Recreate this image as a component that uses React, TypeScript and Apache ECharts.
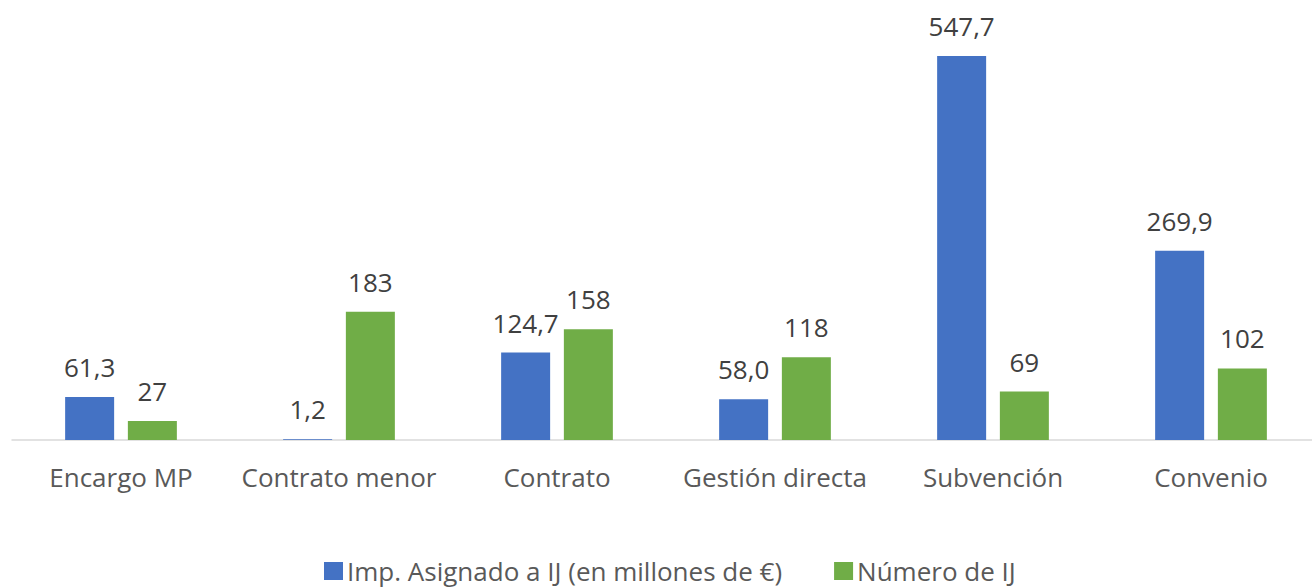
import React, { useEffect, useRef } from "react";
import * as echarts from "echarts";

const categories = ["Encargo MP", "Contrato menor", "Contrato", "Gestión directa", "Subvención", "Convenio"];
const importeValues = [61.3, 1.2, 124.7, 58.0, 547.7, 269.9];
const numeroValues = [27, 183, 158, 118, 69, 102];
const seriesNames = ["Imp. Asignado a IJ (en millones de €)", "Número de IJ"];

export default function App() {
  const ref = useRef<HTMLDivElement>(null);
  useEffect(() => {
    const chart = echarts.init(ref.current!, null, { renderer: "svg" });
    const font = "'Open Sans', 'Noto Sans', sans-serif";
    chart.setOption({
      animation: false,
      textStyle: { fontFamily: font },
      grid: { left: 12, right: 0, top: 19.3, bottom: 147, containLabel: false },
      legend: {
        data: seriesNames,
        left: 319,
        top: 553,
        icon: "rect",
        itemWidth: 19,
        itemHeight: 18,
        itemGap: 52,
        textStyle: { fontSize: 26, lineHeight: 26, color: "#595959", fontFamily: font, padding: [0, 0, 0, -1] },
      },
      xAxis: {
        type: "category",
        data: categories,
        axisLine: { lineStyle: { color: "#D9D9D9", width: 1.5 } },
        axisTick: { show: false },
        axisLabel: { interval: 0, fontSize: 26, lineHeight: 26, color: "#595959", margin: 24, fontFamily: font },
      },
      yAxis: {
        type: "value",
        min: 0,
        max: 600,
        show: false,
        splitLine: { show: false },
      },
      series: [
        {
          name: seriesNames[0],
          type: "bar",
          data: importeValues,
          barWidth: 49,
          barGap: "28%",
          itemStyle: { color: "#4472C4" },
          label: {
            show: true,
            position: "top",
            distance: 17,
            fontSize: 26,
            lineHeight: 26,
            color: "#404040",
            fontFamily: font,
            formatter: (p: any) => Number(p.value).toFixed(1).replace(".", ","),
          },
        },
        {
          name: seriesNames[1],
          type: "bar",
          data: numeroValues,
          barWidth: 49,
          itemStyle: { color: "#70AD47" },
          label: {
            show: true,
            position: "top",
            distance: 17,
            fontSize: 26,
            lineHeight: 26,
            color: "#404040",
            fontFamily: font,
          },
        },
      ],
    });
    return () => chart.dispose();
  }, []);
  return (
    <div
      ref={ref}
      style={{ position: "fixed", left: 0, top: 0, width: 1320, height: 587, background: "#fff" }}
    />
  );
}
